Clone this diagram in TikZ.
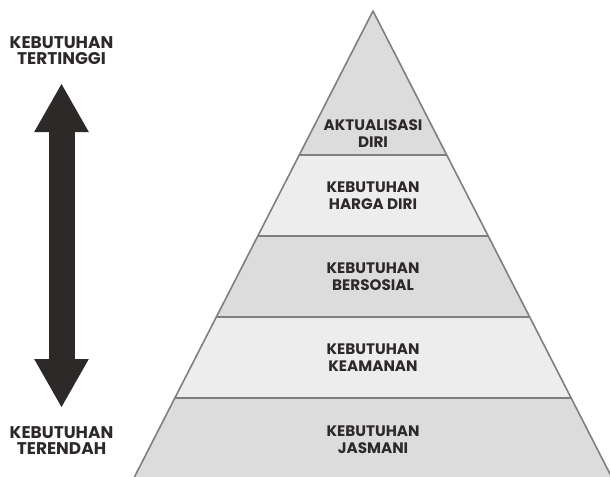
\documentclass[tikz,border=0pt]{standalone}
\usepackage{fontspec}
\setmainfont{Poppins}
\usetikzlibrary{arrows.meta}
\definecolor{ink}{HTML}{2E2929}
\definecolor{edge}{HTML}{7F7F7F}
\definecolor{tierdark}{HTML}{DCDCDC}
\definecolor{tierlight}{HTML}{EDEDED}
\tikzset{
  tier/.style={fill=#1, draw=edge, line width=1.2pt, line join=round},
  sidelabel/.style={text=ink, align=center, font=\bfseries\fontsize{12.7}{12.2}\selectfont, inner sep=0pt},
  tierlabel/.style={text=ink, align=center, font=\bfseries\fontsize{11.4}{12.8}\selectfont, inner sep=0pt},
  fathead/.tip={Triangle[length=36pt,width=41pt,line width=0pt]},
}

\begin{document}
\begin{tikzpicture}[x=0.75pt,y=0.75pt,yscale=-1,xscale=1]
  \useasboundingbox (0,0) rectangle (610,476);
  % pyramid tiers
  \begin{scope}
    \clip (0,0) rectangle (610,476);
    \foreach \ya/\yb/\shade in {11/155/tierdark,155/236/tierlight,236/317/tierdark,317/398/tierlight,398/480/tierdark}
      \draw[tier=\shade] ({373-0.512*(\ya-11)},\ya) -- ({373+0.512*(\ya-11)},\ya) -- ({373+0.512*(\yb-11)},\yb) -- ({373-0.512*(\yb-11)},\yb) -- cycle;
  \end{scope}

  \node[tierlabel] (aktualisasi) at (373,134) {AKTUALISASI\\DIRI};
  \node[tierlabel] (hargadiri) at (373,195.5) {KEBUTUHAN\\HARGA DIRI};
  \node[tierlabel] (bersosial) at (373,276.5) {KEBUTUHAN\\BERSOSIAL};
  \node[tierlabel] (keamanan) at (373,357.5) {KEBUTUHAN\\KEAMANAN};
  \node[tierlabel] (jasmani) at (373,440) {KEBUTUHAN\\JASMANI};

  % side scale
  \node[sidelabel] (tertinggi) at (61.5,50.5) {KEBUTUHAN\\TERTINGGI};
  \node[sidelabel] (terendah) at (61.5,440.5) {KEBUTUHAN\\TERENDAH};
  \coordinate (hi) at (61.5,84);
  \coordinate (lo) at (61.5,407);
  \draw[ink, line width=19.5pt, fathead-fathead] (hi) -- (lo);
\end{tikzpicture}
\end{document}
